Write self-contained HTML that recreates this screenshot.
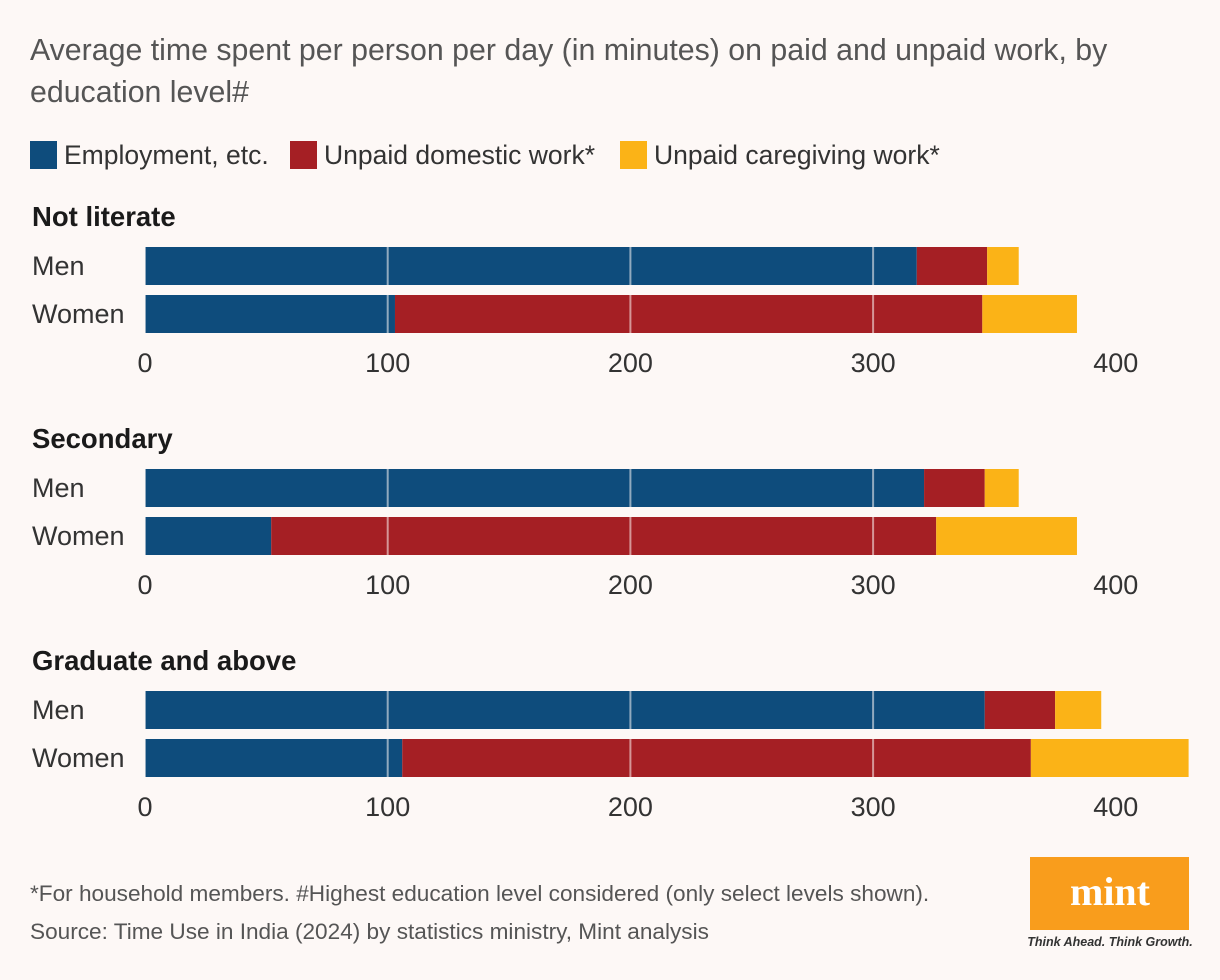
<!DOCTYPE html>
<html><head><meta charset="utf-8"><style>
body{margin:0;background:#fdf8f6;}
svg{display:block;font-family:"Liberation Sans",sans-serif;}
</style></head><body>
<svg width="1220" height="980">
<rect width="1220" height="980" fill="#fdf8f6"/>
<text x="30" y="60" font-size="30.3" fill="#555">Average time spent per person per day (in minutes) on paid and unpaid work, by</text>
<text x="30" y="102" font-size="30.3" fill="#555">education level#</text>
<g>
<rect x="30" y="141" width="27" height="28" fill="#0e4c7c"/>
<text x="64" y="164" font-size="26.5" fill="#333">Employment, etc.</text>
<rect x="290" y="141" width="27" height="28" fill="#a51f24"/>
<text x="324" y="164" font-size="26.5" fill="#333">Unpaid domestic work*</text>
<rect x="620" y="141" width="27" height="28" fill="#fbb317"/>
<text x="654" y="164" font-size="26.5" fill="#333">Unpaid caregiving work*</text>
</g>
<g id="panels"></g>
<text x="30" y="901" font-size="22.6" fill="#555">*For household members. #Highest education level considered (only select levels shown).</text>
<text x="30" y="939" font-size="22.6" fill="#555">Source: Time Use in India (2024) by statistics ministry, Mint analysis</text>
<g>
<rect x="1030" y="857" width="159" height="73" fill="#f99d1c"/>
<text x="1110" y="905" font-size="40" font-weight="bold" fill="#fff" text-anchor="middle" font-family="Liberation Serif,serif">mint</text>
<text x="1110" y="946" font-size="12.5" font-style="italic" font-weight="bold" fill="#333" text-anchor="middle">Think Ahead. Think Growth.</text>
</g>
</svg>
<script>
const groups = ["Not literate", "Secondary", "Graduate and above"];
const genders = ["Men", "Women"];
const employment = [[318, 103], [321, 52], [346, 106]];
const domestic = [[29, 242], [25, 274], [29, 259]];
const caregiving = [[13, 39], [14, 58], [19, 65]];
const ticks = [0, 100, 200, 300, 400];

const NS = "http://www.w3.org/2000/svg";
const x0 = 145, pxPer = 2.427;
const xs = v => x0 + v * pxPer;
const colors = ["#0e4c7c", "#a51f24", "#fbb317"];
const names = ["employment", "domestic", "caregiving"];
const root = document.getElementById("panels");
function mk(tag, attrs, parent) {
  const e = document.createElementNS(NS, tag);
  for (const k in attrs) e.setAttribute(k, attrs[k]);
  parent.appendChild(e);
  return e;
}
groups.forEach((g, gi) => {
  const oy = gi * 222;
  const pg = mk("g", {}, root);
  
  
  const t = mk("text", {x: 32, y: 226 + oy, "font-size": 27.5, "font-weight": "bold", fill: "#1a1a1a"}, pg);
  t.textContent = g;
  
  
  genders.forEach((s, si) => {
    const by = 247 + oy + si * 48;
    const lb = mk("text", {x: 32, y: by + 28, "font-size": 27, fill: "#333"}, pg);
    lb.textContent = s;
    
    
    const vals = [employment[gi][si], domestic[gi][si], caregiving[gi][si]];
    let acc = 0;
    vals.forEach((v, k) => {
      const r = mk("rect", {x: xs(acc), y: by, width: xs(acc + v) - xs(acc), height: 38, fill: colors[k]}, pg);
      
      
      acc += v;
    });
  });
  ticks.forEach(tv => {
    if (tv < 400) {
      const l = mk("line", {x1: xs(tv), x2: xs(tv), y1: 247 + oy, y2: 333 + oy, stroke: "#fdf8f6", "stroke-opacity": 0.55, "stroke-width": 2}, pg);
      
      
    }
    const tl = mk("text", {x: xs(tv), y: 372 + oy, "font-size": 27, fill: "#333", "text-anchor": "middle"}, pg);
    tl.textContent = tv;
    
    
  });
});
</script>
</body></html>
